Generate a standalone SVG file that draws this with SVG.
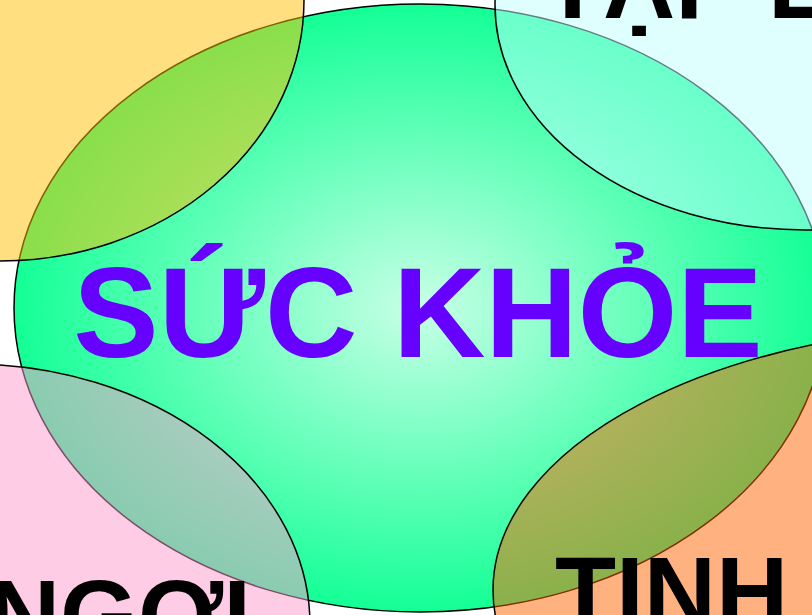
<svg xmlns="http://www.w3.org/2000/svg" width="812" height="615" viewBox="0 0 812 615">
  <defs>
    <radialGradient id="gCenter" cx="0.5" cy="0.5" r="0.5">
      <stop offset="0" stop-color="#C8FFE6"/>
      <stop offset="1" stop-color="#14FF96"/>
    </radialGradient>
  </defs>
  <style>
    .corner { stroke: #000000; stroke-width: 1.5; fill-opacity: 0.5; }
    .main { font-family: "Liberation Sans", Arial, sans-serif; font-weight: bold; font-size: 128px; fill: #6600FF; }
    .label { font-family: "Liberation Sans", Arial, sans-serif; font-weight: bold; font-size: 100px; fill: #000000; }
  </style>
  <rect x="0" y="0" width="812" height="615" fill="#FFFFFF"/>
  <g id="center-node">
    <ellipse cx="420" cy="308" rx="406" ry="304" fill="url(#gCenter)" stroke="#000000" stroke-width="1.5"/>
    <text class="main" x="418" y="357" text-anchor="middle">SỨC KHỎE</text>
  </g>
  <g id="node-top-left">
    <ellipse class="corner" cx="0" cy="0" rx="304" ry="261" fill="#FFC000"/>
  </g>
  <g id="node-top-right">
    <ellipse class="corner" cx="805" cy="5" rx="310" ry="225" fill="#C0FFFF"/>
  </g>
  <g id="node-bottom-left">
    <ellipse class="corner" cx="-30" cy="625" rx="340" ry="261" fill="#FF99CC"/>
  </g>
  <g id="node-bottom-right">
    <ellipse class="corner" cx="1000" cy="590" rx="507" ry="264" fill="#FF6400"/>
  </g>
  <g id="labels">
    <text class="label" x="542" y="18">TẬP L</text>
    <text class="label" x="251" y="650" text-anchor="end">NGƠI</text>
    <text class="label" x="555" y="627">TINH</text>
  </g>
  <g id="connectors"/>
</svg>
